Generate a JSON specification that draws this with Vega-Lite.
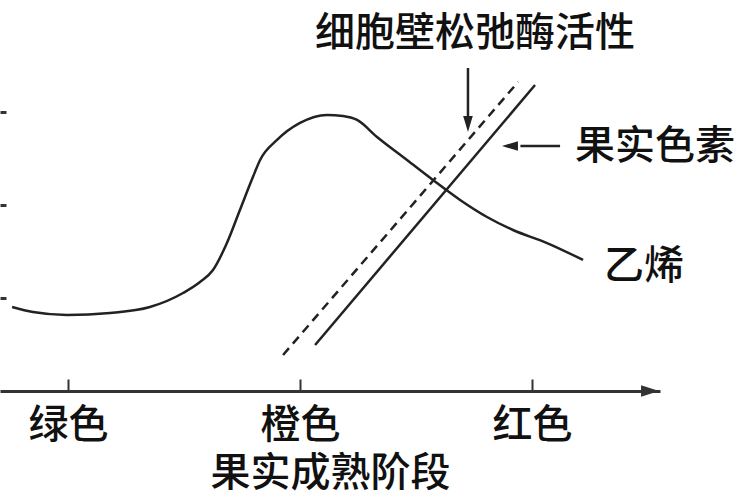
{
  "$schema": "https://vega.github.io/schema/vega-lite/v6.json",
  "width": 660,
  "height": 391,
  "padding": {"left": 0, "top": 0, "right": 90, "bottom": 109},
  "autosize": {"type": "none"},
  "background": "white",
  "config": {"view": {"stroke": null}, "font": "Noto Sans CJK SC"},
  "datasets": {
    "ethylene": [
      {"s": -0.241, "v": 0.903}, {"s": -0.151, "v": 0.849}, {"s": -0.004, "v": 0.817},
      {"s": 0.181, "v": 0.839}, {"s": 0.353, "v": 0.903}, {"s": 0.496, "v": 1.054},
      {"s": 0.569, "v": 1.172}, {"s": 0.625, "v": 1.301}, {"s": 0.685, "v": 1.591},
      {"s": 0.741, "v": 1.946}, {"s": 0.797, "v": 2.301}, {"s": 0.828, "v": 2.484},
      {"s": 0.901, "v": 2.699}, {"s": 1.0, "v": 2.882}, {"s": 1.116, "v": 2.968},
      {"s": 1.185, "v": 2.957}, {"s": 1.246, "v": 2.914}, {"s": 1.332, "v": 2.731},
      {"s": 1.461, "v": 2.484}, {"s": 1.573, "v": 2.269}, {"s": 1.69, "v": 2.054},
      {"s": 1.806, "v": 1.871}, {"s": 1.918, "v": 1.731}, {"s": 2.065, "v": 1.591},
      {"s": 2.22, "v": 1.409}
    ],
    "enzyme": [{"s": 0.927, "v": 0.387}, {"s": 1.94, "v": 3.323}],
    "pigment": [{"s": 1.065, "v": 0.495}, {"s": 2.013, "v": 3.29}],
    "shafts": [
      {"k": "a", "s": 1.724, "v": 3.473}, {"k": "a", "s": 1.724, "v": 2.95},
      {"k": "b", "s": 1.95, "v": 2.634}, {"k": "b", "s": 2.121, "v": 2.634}
    ],
    "downhead": [{"s": 1.724, "v": 2.871}],
    "lefthead": [{"s": 1.905, "v": 2.634}],
    "axishead": [{"s": 2.509, "v": 0}],
    "centerlabels": [
      {"t": "细胞壁松弛酶活性", "s": 1.754, "v": 3.839}
    ],
    "leftlabels": [
      {"t": "果实色素", "s": 2.185, "v": 2.624},
      {"t": "乙烯", "s": 2.31, "v": 1.333}
    ]
  },
  "encoding": {
    "x": {
      "field": "s", "type": "quantitative",
      "scale": {"domain": [-0.2931, 2.5517], "nice": false, "zero": false},
      "axis": {
        "values": [0, 1, 2],
        "labelExpr": "datum.value == 0 ? '绿色' : datum.value == 1 ? '橙色' : '红色'",
        "grid": false,
        "domainColor": "#333", "domainWidth": 3,
        "tickColor": "#333", "tickWidth": 2, "tickSize": -12,
        "labelFontSize": 40, "labelFontWeight": 500, "labelColor": "#111", "labelPadding": 26,
        "labelFlush": false, "labelOverlap": false,
        "title": "果实成熟阶段", "titleFontSize": 40, "titleFontWeight": 500,
        "titleColor": "#111", "titlePadding": 8
      }
    },
    "y": {
      "field": "v", "type": "quantitative",
      "scale": {"domain": [0, 4.204], "nice": false, "zero": false},
      "axis": {
        "values": [1, 2, 3], "labels": false, "domain": false, "grid": false,
        "tickColor": "#333", "tickWidth": 3, "tickSize": -6, "title": null
      }
    }
  },
  "layer": [
    {
      "data": {"name": "ethylene"},
      "mark": {"type": "line", "interpolate": "monotone", "color": "#222", "strokeWidth": 2.5}
    },
    {
      "data": {"name": "enzyme"},
      "mark": {"type": "line", "color": "#222", "strokeWidth": 2.5, "strokeDash": [9, 6]}
    },
    {
      "data": {"name": "pigment"},
      "mark": {"type": "line", "color": "#222", "strokeWidth": 2.5}
    },
    {
      "data": {"name": "shafts"},
      "mark": {"type": "line", "color": "#222", "strokeWidth": 2.5},
      "encoding": {"detail": {"field": "k"}}
    },
    {
      "data": {"name": "downhead"},
      "mark": {"type": "point", "filled": true, "color": "#222", "opacity": 1, "size": 256, "shape": "M-0.6,-1L0,1L0.6,-1Z"}
    },
    {
      "data": {"name": "lefthead"},
      "mark": {"type": "point", "filled": true, "color": "#222", "opacity": 1, "size": 256, "shape": "M1,-0.6L-1,0L1,0.6Z"}
    },
    {
      "data": {"name": "axishead"},
      "mark": {"type": "point", "filled": true, "color": "#333", "opacity": 1, "size": 324, "shape": "M-1,-0.65L1,0L-1,0.65Z", "clip": false}
    },
    {
      "data": {"name": "centerlabels"},
      "mark": {"type": "text", "fontSize": 40, "fontWeight": 500, "color": "#111", "baseline": "middle", "align": "center"},
      "encoding": {"text": {"field": "t"}}
    },
    {
      "data": {"name": "leftlabels"},
      "mark": {"type": "text", "fontSize": 40, "fontWeight": 500, "color": "#111", "baseline": "middle", "align": "left"},
      "encoding": {"text": {"field": "t"}}
    }
  ]
}
